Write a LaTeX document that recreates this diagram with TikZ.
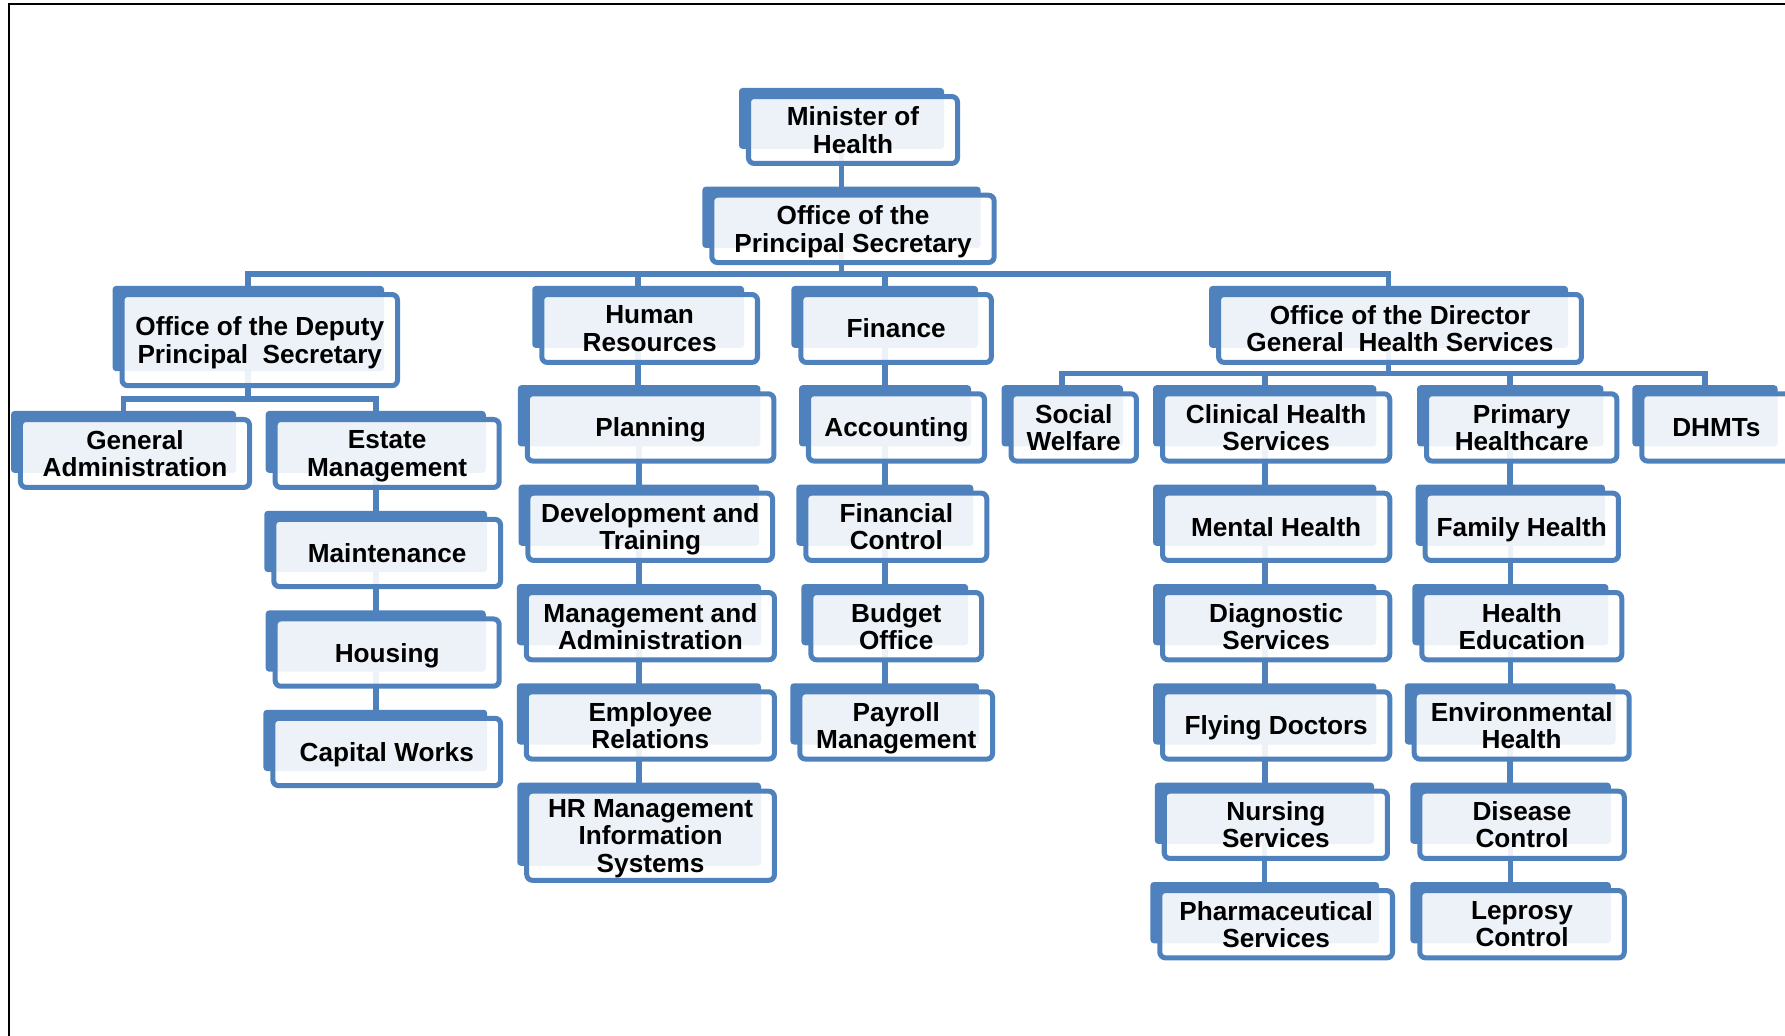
\documentclass[tikz,border=0pt]{standalone}
\usepackage{fontspec}
\setmainfont{Liberation Sans}
\usetikzlibrary{calc}
\definecolor{obl}{RGB}{79,129,189}
\pgfdeclarelayer{bg}
\pgfsetlayers{bg,main}
\tikzset{
  backbox/.style={fill=obl, rounded corners=3pt, inner sep=0pt, outer sep=0pt},
  frontbox/.style={draw=obl, line width=4.4pt, fill=white, fill opacity=0.9, text opacity=1,
    rounded corners=5pt, inner sep=0pt, outer sep=0pt, align=center, text=black,
    text depth=0pt, font=\bfseries\fontsize{23}{24}\selectfont},
  conn/.style={draw=obl, line width=5pt, line cap=butt, line join=miter},
}
\newcommand\orgbx[6]{%
  \pgfmathsetmacro\obBW{#4-#2-7.9}%
  \pgfmathsetmacro\obBH{#5-#3-9.7}%
  \pgfmathsetmacro\obBX{(#2+#4)/2-10.05}%
  \pgfmathsetmacro\obBY{(#3+#5)/2-10.15}%
  \pgfmathsetmacro\obFW{#4-#2-4.4}%
  \pgfmathsetmacro\obFH{#5-#3-4.4}%
  \pgfmathsetmacro\obFX{(#2+#4)/2}%
  \pgfmathsetmacro\obFY{(#3+#5)/2}%
  \node[backbox, minimum width=\obBW pt, minimum height=\obBH pt] (#1) at (\obBX,\obBY) {};
  \node[frontbox, minimum width=\obFW pt, minimum height=\obFH pt] (#1-t) at (\obFX,\obFY) {#6};
}
\begin{document}
\begin{tikzpicture}[x=1pt,y=-1pt]
\useasboundingbox (0,0) rectangle (1568,910);
\clip (0,0) rectangle (1568,910);
\draw[line width=1.8pt, line cap=butt, line join=miter] (7.9,930) -- (7.9,3.2) -- (1590,3.2);

\orgbx{min}{655.3}{82.6}{843.3}{145.8}{Minister of\\Health}
\orgbx{ps}{623.1}{169.3}{875.5}{232.8}{Office of the\\Principal Secretary}
\orgbx{dep}{105}{256.5}{351.4}{341}{Office of the Deputy\\Principal~~Secretary}
\orgbx{hr}{473.7}{256.5}{667.6}{320.6}{Human\\Resources}
\orgbx{fin}{701.3}{256.5}{873.1}{320.6}{Finance}
\orgbx{dg}{1068.2}{256.5}{1391.4}{320.6}{Office of the Director\\General~~Health Services}

\orgbx{gen}{15.8}{366.3}{221.4}{430.4}{General\\Administration}
\orgbx{est}{239.5}{366.3}{440.7}{430.4}{Estate\\Management}
\orgbx{mai}{238.3}{454}{441.9}{517.5}{Maintenance}
\orgbx{hou}{239.5}{541.5}{440.7}{605}{Housing}
\orgbx{cap}{237.5}{628.8}{442}{692.3}{Capital Works}

\orgbx{plan}{461}{343.7}{682}{407.2}{Planning}
\orgbx{dev}{461.6}{431}{680.8}{494.5}{Development and\\Training}
\orgbx{mgt}{460.1}{518.3}{682.5}{581.8}{Management and\\Administration}
\orgbx{emp}{460.1}{605.5}{682.5}{669}{Employee\\Relations}
\orgbx{hrm}{460.5}{692.8}{682.5}{775.5}{HR Management\\Information\\Systems}

\orgbx{acc}{708}{343.7}{867}{407.2}{Accounting}
\orgbx{fc}{705.7}{431}{869}{494.5}{Financial\\Control}
\orgbx{bud}{710.1}{518.3}{864.4}{581.8}{Budget\\Office}
\orgbx{pay}{700.4}{605.5}{874.1}{669}{Payroll\\Management}

\orgbx{soc}{885.9}{343.7}{1000.5}{407.2}{Social\\Welfare}
\orgbx{cli}{1019}{343.7}{1223}{407.2}{Clinical Health\\Services}
\orgbx{men}{1019}{431}{1223}{494.5}{Mental Health}
\orgbx{dia}{1019}{518.3}{1223}{581.8}{Diagnostic\\Services}
\orgbx{fly}{1019}{605.5}{1223}{669}{Flying Doctors}
\orgbx{nur}{1020.5}{692.8}{1221}{756.3}{Nursing\\Services}
\orgbx{pha}{1016.6}{780.1}{1225.4}{843.6}{Pharmaceutical\\Services}

\orgbx{pri}{1250.9}{343.7}{1422.5}{407.2}{Primary\\Healthcare}
\orgbx{fam}{1249.7}{431}{1423.9}{494.5}{Family Health}
\orgbx{hed}{1246.8}{518.3}{1426.8}{581.8}{Health\\Education}
\orgbx{env}{1240.1}{605.5}{1433.3}{669}{Environmental\\Health}
\orgbx{dis}{1245}{692.8}{1429}{756.3}{Disease\\Control}
\orgbx{lep}{1245}{780.1}{1429}{843.6}{Leprosy\\Control}

\orgbx{dhm}{1440}{343.7}{1575.5}{407.2}{DHMTs}

\coordinate (busA) at (0,240.5);
\coordinate (busDep) at (0,350.5);
\coordinate (busDG) at (0,328);

\begin{pgfonlayer}{bg}
\draw[conn] (min.center) -- (ps.center);
\foreach \c in {dep,hr,fin,dg}{
  \draw[conn] (ps.center) -- (ps.center |- busA) -| (\c.center);
}
\foreach \c in {gen,est}{
  \draw[conn] (dep.center) -- (dep.center |- busDep) -| (\c.center);
}
\foreach \c in {soc,cli,pri,dhm}{
  \draw[conn] (dg.center) -- (dg.center |- busDG) -| (\c.center);
}
\foreach \a/\b in {est/mai,mai/hou,hou/cap,
                   hr/plan,plan/dev,dev/mgt,mgt/emp,emp/hrm,
                   fin/acc,acc/fc,fc/bud,bud/pay,
                   cli/men,men/dia,dia/fly,fly/nur,nur/pha,
                   pri/fam,fam/hed,hed/env,env/dis,dis/lep}{
  \draw[conn] (\a.center) -- (\a.center |- \b.center);
}
\end{pgfonlayer}
\end{tikzpicture}
\end{document}
